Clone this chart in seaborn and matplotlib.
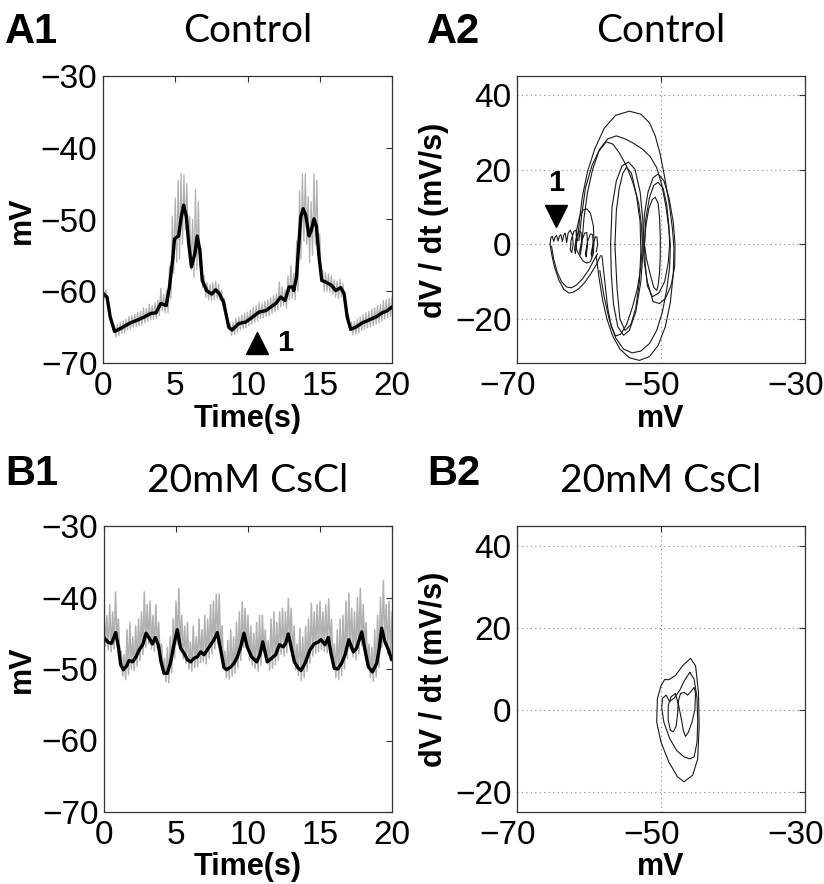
import numpy as np
import matplotlib
matplotlib.use("Agg")
import matplotlib.pyplot as plt
import matplotlib.transforms as mtransforms
import seaborn as sns

# ---- A1: control trace (black = smoothed, gray = raw envelope) ----
a1_t = [0, 0.28, 0.5, 0.8, 1.2, 1.9, 2.4, 2.85, 3.3, 3.67,
        4.0, 4.37, 4.6, 4.84, 4.95, 5.23, 5.42, 5.58, 5.77, 5.93,
        6.12, 6.36, 6.52, 6.7, 6.87, 7.17, 7.52, 7.8, 8.04, 8.34,
        8.7, 8.93, 9.4, 9.86, 10.35, 10.8, 11.27, 11.6, 11.96, 12.3,
        12.6, 12.88, 13.1, 13.2, 13.39, 13.57, 13.69, 13.85, 14.03, 14.26,
        14.42, 14.6, 14.77, 14.95, 15.14, 15.4, 15.83, 16.1, 16.45, 16.68,
        16.9, 17.14, 17.5, 17.95, 18.41, 18.87, 19.33, 19.68, 20.0]
a1_v = [-60.3, -60.8, -63.6, -65.6, -65.2, -64.4, -64.0, -63.6, -63.1, -63.0,
        -61.7, -62.0, -59.4, -55.2, -52.7, -52.3, -49.6, -48.0, -49.6, -53.3,
        -56.6, -54.7, -52.3, -54.3, -58.5, -59.9, -60.4, -59.8, -60.3, -61.5,
        -65.0, -65.4, -64.5, -64.3, -63.6, -62.9, -62.7, -62.2, -61.7, -60.8,
        -61.3, -59.4, -59.4, -59.9, -58.0, -52.9, -49.6, -48.5, -49.4, -52.3,
        -51.5, -49.9, -51.0, -55.2, -58.5, -58.7, -59.2, -59.9, -59.5, -60.3,
        -63.6, -65.3, -65.0, -64.4, -64.0, -63.6, -63.0, -62.7, -62.2]

raw_t = np.arange(0, 20.01, 0.2)
a1_hi = [-59.5, -59.8, -61.6, -63.8, -64.8, -64.6, -64.3, -64.1, -63.9, -63.5,
         -63.4, -63.2, -62.9, -62.8, -62.3, -62.4, -61.8, -62.0, -61.6, -61.2,
         -59.6, -60.4, -59.8, -56.5, -49.5, -47.0, -44.5, -43.6, -43.8, -45.0,
         -49.5, -50.0, -45.8, -47.5, -54.0, -57.8, -58.8, -59.0, -58.8, -58.6,
         -59.0, -59.8, -61.0, -63.3, -64.4, -64.3, -63.8, -63.6, -63.3, -63.1,
         -62.9, -62.6, -62.2, -62.0, -61.6, -61.7, -61.4, -61.2, -60.9, -60.6,
         -60.3, -58.7, -59.4, -59.8, -57.8, -56.4, -57.5, -53.0, -46.0, -43.6,
         -43.6, -46.8, -47.5, -43.6, -44.5, -52.0, -57.0, -57.4, -57.6, -57.8,
         -58.4, -58.6, -58.3, -58.9, -61.0, -63.4, -64.3, -64.2, -63.9, -63.6,
         -63.3, -63.0, -62.8, -62.5, -62.3, -62.0, -61.8, -61.3, -61.2, -61.0,
         -60.8]
a1_lo = [-61.0, -61.6, -63.4, -65.4, -66.4, -66.2, -65.9, -65.8, -65.4, -65.3,
         -65.0, -64.9, -64.8, -64.7, -64.4, -64.2, -64.0, -63.9, -63.8, -63.4,
         -62.7, -63.0, -63.0, -61.0, -57.5, -56.0, -55.5, -53.5, -51.5, -53.0,
         -57.0, -58.0, -57.0, -56.5, -59.5, -60.8, -61.2, -61.3, -61.2, -61.0,
         -61.3, -62.0, -63.2, -65.3, -66.2, -66.0, -65.7, -65.4, -65.2, -65.1,
         -64.8, -64.6, -64.3, -64.1, -63.8, -63.7, -63.5, -63.4, -63.1, -62.9,
         -62.6, -62.2, -62.0, -62.4, -61.2, -61.0, -61.2, -60.0, -55.5, -53.0,
         -53.5, -56.0, -55.0, -53.5, -55.5, -58.5, -60.0, -60.0, -60.2, -60.4,
         -60.8, -61.0, -60.8, -61.2, -63.2, -65.4, -66.1, -66.0, -65.8, -65.5,
         -65.3, -65.1, -65.0, -64.8, -64.6, -64.4, -64.2, -63.9, -63.7, -63.5,
         -63.2]

# ---- B1: 20mM CsCl trace ----
b1_t = [0, 0.3, 0.53, 0.81, 1.0, 1.16, 1.34, 1.57, 1.74, 1.99,
        2.22, 2.45, 2.69, 2.92, 3.15, 3.36, 3.56, 3.77, 3.96, 4.17,
        4.4, 4.63, 4.86, 5.09, 5.32, 5.56, 5.79, 6.02, 6.25, 6.48,
        6.71, 6.94, 7.18, 7.41, 7.64, 7.87, 8.1, 8.33, 8.52, 8.8,
        9.03, 9.26, 9.49, 9.72, 9.95, 10.14, 10.25, 10.6, 10.83, 11.02,
        11.18, 11.34, 11.64, 11.92, 12.18, 12.45, 12.62, 12.8, 12.99, 13.22,
        13.5, 13.68, 13.96, 14.31, 14.59, 14.9, 15.07, 15.35, 15.58, 15.76,
        15.99, 16.23, 16.5, 16.74, 17.0, 17.31, 17.54, 17.9, 18.12, 18.36,
        18.64, 18.94, 19.12, 19.28, 19.51, 19.75, 19.98]
b1_v = [-45.6, -46.3, -46.4, -44.9, -46.9, -49.4, -50.1, -49.6, -48.8, -49.0,
        -48.3, -47.3, -46.6, -45.0, -45.7, -46.5, -45.6, -46.6, -49.0, -50.6,
        -50.6, -49.0, -46.6, -44.5, -47.1, -47.8, -48.7, -49.0, -48.5, -48.3,
        -47.6, -48.0, -47.3, -46.6, -45.9, -44.9, -47.3, -49.8, -50.1, -49.7,
        -49.2, -48.3, -46.9, -45.0, -46.9, -47.8, -48.3, -49.0, -48.0, -46.2,
        -47.6, -49.0, -48.5, -48.0, -46.6, -46.9, -46.4, -45.1, -46.9, -49.0,
        -49.9, -50.2, -49.2, -47.3, -46.5, -46.2, -45.9, -46.6, -45.6, -47.8,
        -49.9, -50.0, -49.2, -48.0, -45.9, -47.6, -47.1, -44.8, -47.3, -49.7,
        -50.4, -49.2, -47.1, -44.3, -46.2, -47.3, -48.7]
b1_hi = [-41.5, -42.5, -41.0, -42.0, -39.2, -43.0, -47.5, -48.0, -44.5, -43.5,
         -45.5, -44.0, -43.0, -42.0, -39.2, -41.0, -40.5, -42.5, -41.0, -43.5,
         -46.5, -48.5, -47.0, -45.5, -43.0, -40.5, -38.7, -42.5, -44.0, -43.5,
         -46.2, -44.0, -45.5, -43.0, -44.5, -42.5, -43.0, -41.0, -40.5, -39.5,
         -39.5, -44.0, -47.5, -46.0, -44.5, -45.5, -43.5, -42.0, -40.6, -41.5,
         -42.5, -44.0, -45.0, -43.5, -42.5, -42.5, -44.5, -46.0, -43.0, -42.0,
         -43.5, -42.0, -41.5, -42.0, -40.1, -41.5, -44.0, -46.5, -44.3, -45.5,
         -44.0, -43.0, -40.8, -42.0, -41.0, -40.5, -42.0, -41.0, -40.2, -43.0,
         -46.5, -44.5, -43.0, -42.5, -40.5, -39.4, -41.5, -42.0, -40.0, -38.7,
         -41.0, -43.5, -46.5, -47.0, -44.5, -42.5, -40.0, -37.6, -41.0, -40.5,
         -42.0]
b1_lo = [-46.8, -47.3, -47.6, -47.2, -46.0, -48.2, -51.0, -51.5, -50.8, -50.0,
         -50.2, -49.6, -48.8, -48.0, -47.0, -46.5, -47.2, -47.5, -47.0, -48.2,
         -50.6, -51.8, -51.9, -50.5, -48.5, -46.6, -47.0, -48.6, -49.2, -50.0,
         -50.3, -49.8, -49.7, -49.1, -49.0, -49.3, -48.5, -47.9, -47.2, -46.5,
         -47.5, -49.7, -51.2, -51.4, -51.0, -50.6, -49.8, -48.8, -47.0, -47.1,
         -48.8, -49.5, -49.9, -50.3, -49.5, -47.6, -49.1, -50.2, -49.9, -49.4,
         -48.8, -47.9, -48.2, -47.7, -46.4, -48.2, -50.1, -50.9, -51.6, -51.2,
         -50.3, -49.2, -48.2, -47.8, -47.6, -47.3, -47.5, -47.7, -47.0, -49.5,
         -51.2, -51.5, -50.9, -50.0, -48.6, -47.2, -48.3, -48.7, -47.9, -46.7,
         -46.9, -49.5, -51.2, -51.7, -51.1, -49.8, -47.0, -46.3, -47.9, -48.8,
         -50.0]

# ---- A2: control phase plot, dV/dt vs V (one list pair per visible loop) ----
a2_loops = {
    "big1": ([-61.6, -61.3, -60.9, -60.2, -59.2, -57.9, -56.3, -54.4, -52.8, -51.6,
              -50.8, -50.1, -49.4, -48.8, -48.4, -48.2, -48.3, -48.7, -49.4, -50.4,
              -51.6, -53.0, -54.4, -55.7, -56.7, -57.5, -58.1, -58.6, -59.0],
             [1, 7, 13, 19.5, 25.5, 31, 34.5, 35.6, 34.8, 32.5,
              29, 24, 17, 10, 4, -1, -8, -15.5, -22, -27,
              -30, -31, -30.3, -28, -24.5, -20, -15, -9, -3]),
    "big2": ([-61.4, -61.0, -60.5, -59.6, -58.5, -57.4, -56.2, -55.0, -53.8, -52.6,
              -51.5, -50.6, -49.9, -49.3, -48.9, -48.7, -48.8, -49.2, -49.8, -50.6,
              -51.6, -52.8, -54.0, -55.2, -56.3, -57.2, -57.9, -58.5],
             [1, 8, 15, 21, 25.5, 28.2, 29.0, 28.2, 27.0, 25.5,
              23.5, 20.5, 16, 10, 4, 0, -6, -12, -18, -23,
              -26.5, -28.5, -29, -28, -25, -20, -14, -7]),
    "big3": ([-61.0, -60.7, -60.2, -59.5, -58.6, -57.6, -56.7, -55.8, -54.8, -53.9,
              -53.1, -52.7, -52.6, -52.8, -53.3, -54.0, -54.8, -55.6, -56.3, -56.9,
              -57.4, -57.8, -58.2],
             [0, 7, 14, 20, 25, 27.4, 26.8, 24.5, 21, 16.5,
              11, 5, 0, -6, -12, -17, -21.5, -24, -24.5, -22,
              -17, -10, -3]),
    "mid1": ([-57.0, -56.8, -56.2, -55.4, -54.5, -53.6, -52.9, -52.5, -52.5, -52.8,
              -53.5, -54.4, -55.2, -56.0, -56.6, -56.9, -57.0],
             [0, 10, 17, 21, 22, 20, 14, 6, -2, -10,
              -18, -23, -24.3, -22, -16, -8, 0]),
    "mid2": ([-56.4, -56.2, -55.8, -55.3, -54.8, -54.1, -53.4, -52.9, -52.8, -53.0,
              -53.5, -54.2, -55.0, -55.7, -56.1, -56.4],
             [0, 9, 15, 19, 20.6, 19, 13, 6, -2, -10,
              -17, -21.5, -23, -20, -12, 0]),
    "right1": ([-52.5, -52.3, -51.8, -51.1, -50.4, -49.6, -48.9, -48.3, -48.05, -48.1,
                -48.6, -49.4, -50.2, -51.1, -51.9, -52.3, -52.5],
               [0, 8, 14, 17.8, 18.8, 17, 12.5, 6, 0, -6,
                -11, -14.5, -15.8, -15.3, -10, -5, 0]),
    "right2": ([-52.3, -52.1, -51.6, -51.0, -50.4, -49.7, -49.2, -48.9, -48.8, -49.0,
                -49.5, -50.3, -51.2, -51.9, -52.2, -52.3],
               [0, 7, 12.5, 15.8, 16.6, 15, 10.5, 5, 0, -5,
                -10, -13, -14, -11, -5, 0]),
    "right3": ([-52.3, -52.1, -51.7, -51.2, -50.8, -50.4, -50.2, -50.1, -50.1, -50.2,
                -50.4, -50.6, -51.0, -51.5, -52.0, -52.3],
               [0, 5, 9.5, 12, 12.6, 11, 7, 2, -3, -7.5,
                -11, -12.3, -11.5, -8, -4, 0]),
    "thin": ([-61.8, -61.7, -61.3, -60.8, -60.3, -59.8, -59.4, -59.3, -59.4, -59.8,
              -60.3, -60.8, -61.3, -61.7, -61.8],
             [0, 4, 7.5, 9.2, 9.5, 8.3, 5, 1, -2.5, -4.6,
              -5.0, -4.5, -3, -1.5, 0]),
    "fall1": ([-58.4, -59.0, -59.8, -60.6, -61.4, -62.2, -62.8, -63.5, -64.2, -64.8,
               -65.2, -65.4],
              [-3, -5.5, -8, -10.2, -11.8, -12.8, -13, -12, -9.5, -6,
               -2.5, 0]),
    "fall2": ([-58.8, -59.4, -60.1, -60.9, -61.7, -62.4, -63.1, -63.8, -64.4, -64.9,
               -65.2],
              [-2.5, -4.5, -7, -9.2, -10.8, -11.6, -11.4, -10, -7.5, -4,
               -0.5]),
    "ripple": ([-65.4, -65.3, -65.1, -64.9, -64.7, -64.5, -64.3, -64.1, -63.9, -63.7,
                -63.5, -63.3, -63.1, -62.9, -62.6, -62.3, -62.2, -62.4, -62.6, -62.5,
                -62.1, -61.8, -61.7, -61.9, -62.0, -61.8, -61.4, -61.1, -61.0, -61.2,
                -61.3, -61.0, -60.6, -60.3, -60.2, -60.4, -60.5, -60.2, -59.8, -59.5,
                -59.4, -59.6, -59.7, -59.4, -59.1, -58.9, -58.8, -59.0],
               [0, 1.8, 2.2, 0.8, 2.0, 2.4, 0.9, 2.2, 2.6, 0.8,
                2.5, 3.0, 0.5, 3, 3.8, 2.5, 0, -2.2, -1.5, 1,
                3.5, 3.8, 1, -2.5, -1.2, 1.5, 3.6, 3.2, 0, -2.8,
                -1.8, 1.0, 3.0, 3.2, 0, -3.3, -2.5, 0.8, 2.8, 2.6,
                0, -3.2, -2.4, 0.5, 2.0, 2.0, 0, -2]),
}

# ---- B2: CsCl phase plot ----
b2_loops = {
    "outer": ([-45.9, -45.2, -44.8, -44.7, -44.9, -45.6, -46.8, -47.7, -48.9, -50.0,
               -50.6, -50.5, -50.0, -49.5, -48.9, -48.0, -47.0, -45.9],
              [12.6, 10.8, 4.3, -3.8, -12, -16, -17.6, -16.4, -12.8, -7.9,
               -3, 2.7, 5.9, 7.4, 7.4, 8.4, 10.8, 12.6]),
    "middle": ([-46.0, -45.4, -45.0, -44.9, -45.0, -45.4, -46.0, -46.8, -47.8, -48.8,
                -49.6, -49.9, -49.8, -49.3, -48.8, -48.1, -47.4, -46.8, -46.0],
               [9.2, 7.5, 3, -3, -8, -11.5, -12.0, -11.5, -10, -7,
                -3, 0.5, 2.8, 3.6, 2.0, 3.0, 4.8, 7.0, 9.2]),
    "inner": ([-48.0, -48.6, -49.0, -49.0, -48.7, -48.3, -47.9, -47.7, -47.6, -47.3,
               -46.8, -46.3, -45.8, -45.4, -45.2, -45.3, -45.7, -46.2, -46.6, -46.9,
               -47.2, -47.6, -48.0],
              [4.0, 3.2, 1, -2.5, -5, -5.4, -4, -1, 2, 4.0,
               4.3, 3.6, 4.6, 5.5, 4, 0, -3, -5.5, -6.5, -5,
               -2, 1.5, 4.0]),
}

W, H = 824, 884
sns.set_style("white")
plt.rcParams["font.family"] = ["Liberation Sans", "DejaVu Sans"]
plt.rcParams["axes.unicode_minus"] = True
for key in ["text.color", "axes.labelcolor", "xtick.color", "ytick.color"]:
    plt.rcParams[key] = "black"

fig = plt.figure(figsize=(W / 100, H / 100), dpi=100)


def box(l, t, r, b):
    return [l / W, 1 - b / H, (r - l) / W, (b - t) / H]


ax_a1 = fig.add_axes(box(103, 76, 392, 363))
ax_a2 = fig.add_axes(box(517, 76, 805, 363))
ax_b1 = fig.add_axes(box(104, 526, 392, 812))
ax_b2 = fig.add_axes(box(517, 526, 805, 812))

gray = "#b0b0b0"


def zigzag(hi, lo):
    # raw trace drawn as alternating excursions between the read envelopes
    tz = np.column_stack([raw_t, raw_t + 0.1]).ravel()
    vz = np.column_stack([hi, lo]).ravel()
    return tz, vz


def style_trace(ax):
    ax.set_xlim(0, 20)
    ax.set_ylim(-70, -30)
    ax.set_xticks([0, 5, 10, 15, 20])
    ax.set_yticks([-70, -60, -50, -40, -30])
    ax.set_yticklabels(["\u221270", "\u221260", "\u221250", "\u221240", "\u221230"])
    ax.tick_params(direction="in", top=True, right=True, length=4, width=0.8,
                   labelsize=24, color="#333333", labelcolor="black")
    ax.tick_params(axis="x", pad=6)
    ax.tick_params(axis="y", pad=4)
    ax.set_xlabel("")
    ax.set_ylabel("")


def style_phase(ax, ylim):
    ax.set_xlim(-70, -30)
    ax.set_ylim(*ylim)
    ax.set_xticks([-70, -50, -30])
    ax.set_xticklabels(["\u221270", "\u221250", "\u221230"])
    ax.set_yticks([-20, 0, 20, 40])
    ax.set_yticklabels(["\u221220", "0", "20", "40"])
    ax.grid(True, linestyle=(0, (1, 3)), color="#888888", lw=0.8)
    ax.tick_params(direction="in", top=True, right=True, length=4, width=0.8,
                   labelsize=24, color="#333333", labelcolor="black")
    ax.tick_params(axis="x", pad=6)
    ax.tick_params(axis="y", pad=4)
    # centre x labels on the digits, as in the original
    shift = mtransforms.ScaledTranslation(-0.097, 0, fig.dpi_scale_trans)
    for lbl in ax.get_xticklabels():
        if lbl.get_text().startswith("\u2212"):
            lbl.set_transform(lbl.get_transform() + shift)
    ax.set_xlabel("")
    ax.set_ylabel("")


for ax, hi, lo, t, v, glw in [(ax_a1, a1_hi, a1_lo, a1_t, a1_v, 0.9),
                              (ax_b1, b1_hi, b1_lo, b1_t, b1_v, 1.1)]:
    tz, vz = zigzag(hi, lo)
    sns.lineplot(x=tz, y=vz, sort=False, estimator=None, color=gray, lw=glw, ax=ax)
    sns.lineplot(x=t, y=v, sort=False, estimator=None, color="black", lw=2.4, ax=ax)
    style_trace(ax)

for ax, loops, ylim in [(ax_a2, a2_loops, (-31.7, 45)), (ax_b2, b2_loops, (-25, 45))]:
    for name, (vv, dd) in loops.items():
        sns.lineplot(x=vv, y=dd, sort=False, estimator=None, color="#1a1a1a",
                     lw=0.8, ax=ax)
    style_phase(ax, ylim)

for ax in [ax_a1, ax_a2, ax_b1, ax_b2]:
    for s in ax.spines.values():
        s.set_color("#333333")
        s.set_linewidth(0.9)

# arrowhead markers labelled "1"
ax_a1.plot([10.66], [-67.2], marker="^", ms=16, color="black", ls="none")
ax_a1.text(12.6, -67.2, "1", fontsize=21, fontweight="bold", ha="center", va="center")
ax_a2.plot([-64.6], [7.7], marker="v", ms=16, color="black", ls="none")
ax_a2.text(-64.6, 16.3, "1", fontsize=21, fontweight="bold", ha="center", va="center")


def ftext(x, y, s, **kw):
    fig.text(x / W, 1 - y / H, s, **kw)


# panel letters and titles
for x, y, s in [(5, 43, "A1"), (427, 43, "A2"), (5, 485, "B1"), (427, 485, "B2")]:
    ftext(x, y, s, fontsize=30, fontweight="bold", ha="left", va="baseline")
for x, y, s in [(248, 42, "Control"), (661, 42, "Control"),
                (248, 492, "20mM CsCl"), (661, 492, "20mM CsCl")]:
    ftext(x, y, s, fontsize=28, family=["Lato", "DejaVu Sans"], ha="center", va="baseline")

# axis labels
lab = dict(fontsize=22, fontweight="bold")
ftext(248, 427, "Time(s)", ha="center", va="baseline", **lab)
ftext(248, 875, "Time(s)", ha="center", va="baseline", **lab)
ftext(661, 427, "mV", ha="center", va="baseline", **lab)
ftext(661, 875, "mV", ha="center", va="baseline", **lab)
ftext(22, 220, "mV", rotation=90, ha="center", va="center", **lab)
ftext(22, 669, "mV", rotation=90, ha="center", va="center", **lab)
ftext(434, 220, "dV / dt (mV/s)", rotation=90, ha="center", va="center", **lab)
ftext(434, 669, "dV / dt (mV/s)", rotation=90, ha="center", va="center", **lab)

fig.savefig("out.png", dpi=100)
